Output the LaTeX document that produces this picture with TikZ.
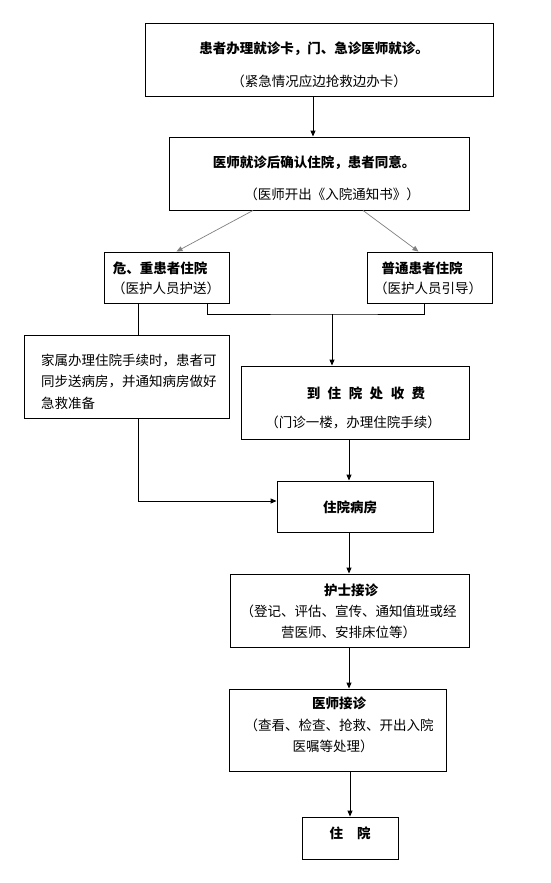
\documentclass[tikz,border=0pt]{standalone}
\usepackage{fontspec}
\setmainfont{Noto Sans CJK SC}
\usetikzlibrary{arrows.meta}
\tikzset{
  box/.style={draw=black, line width=0.9pt, inner sep=0pt},
  txt/.style={inner sep=0pt, font=\fontsize{13.5pt}{16pt}\selectfont},
  ttl/.style={inner sep=0pt, font=\fontsize{13.5pt}{16pt}\selectfont\bfseries},
  arr/.style={draw=black, line width=0.9pt, -{Triangle[width=5pt,length=6pt]}},
  ln/.style={draw=black, line width=0.9pt},
  garr/.style={draw=gray, line width=0.7pt, -{Triangle[width=5pt,length=6pt]}}
}
\begin{document}
\begin{tikzpicture}[x=1pt,y=-1pt]
\useasboundingbox[fill=white] (0,0) rectangle (550,883);
% boxes
\node[box, minimum width=348pt, minimum height=73pt] (b1) at (319,59.5) {};
\node[box, minimum width=300pt, minimum height=73pt] (b2) at (319,173.5) {};
\node[box, minimum width=125pt, minimum height=51pt] (b3) at (166.5,277.5) {};
\node[box, minimum width=125pt, minimum height=51pt] (b4) at (429.5,277.5) {};
\node[box, minimum width=205pt, minimum height=83pt] (b5) at (126.5,376.5) {};
\node[box, minimum width=228pt, minimum height=73pt] (b6) at (355,402.5) {};
\node[box, minimum width=156pt, minimum height=51pt] (b7) at (355,506.5) {};
\node[box, minimum width=239pt, minimum height=73pt] (b8) at (349.5,610.5) {};
\node[box, minimum width=217pt, minimum height=82pt] (b9) at (337.5,730) {};
\node[box, minimum width=96pt, minimum height=42pt] (b10) at (350,838) {};
% texts
\node[ttl] (t1a) at (314,49) {患者办理就诊卡，门、急诊医师就诊。};
\node[txt] (t1b) at (319,81) {（紧急情况应边抢救边办卡）};
\node[ttl] (t2a) at (314,163) {医师就诊后确认住院，患者同意。};
\node[txt] (t2b) at (332,194) {（医师开出《入院通知书》）};
\node[ttl] (t3a) at (160,268) {危、重患者住院};
\node[txt] (t3b) at (166,288) {（医护人员护送）};
\node[ttl] (t4a) at (422,268) {普通患者住院};
\node[txt] (t4b) at (428,288) {（医护人员引导）};
\node[txt, anchor=west] (t5a) at (41,360) {家属办理住院手续时，患者可};
\node[txt, anchor=west] (t5b) at (41,382) {同步送病房，并通知病房做好};
\node[txt, anchor=west] (t5c) at (41,403) {急救准备};
\node[ttl] (t6a) at (366,393) {到\hspace{7.5pt}住\hspace{7.5pt}院\hspace{7.5pt}处\hspace{7.5pt}收\hspace{7.5pt}费};
\node[txt] (t6b) at (353,422) {（门诊一楼，办理住院手续）};
\node[ttl] (t7) at (350,507) {住院病房};
\node[ttl] (t8a) at (351,590) {护士接诊};
\node[txt] (t8b) at (348.5,611) {（登记、评估、宣传、通知值班或经};
\node[txt] (t8c) at (348.5,632) {营医师、安排床位等）};
\node[ttl] (t9a) at (339,703) {医师接诊};
\node[txt] (t9b) at (339,725) {（查看、检查、抢救、开出入院};
\node[txt] (t9c) at (333,746) {医嘱等处理）};
\node[ttl] (t10) at (350,833) {住\hspace{14pt}院};
% connectors
\draw[arr] ([xshift=-6pt]b1.south) -- ([xshift=-6pt]b2.north);
\draw[garr] ([xshift=-66pt]b2.south) -- ([xshift=10pt]b3.north);
\draw[garr] ([xshift=44pt]b2.south) -- ([xshift=-11pt]b4.north);
\coordinate (m) at (332,314);
\draw[ln] ([xshift=40.5pt]b3.south) |- (m) -| ([xshift=-5.5pt]b4.south);
\draw[arr] (m) -- ([xshift=-23pt]b6.north);
\draw[ln] ([xshift=-28.5pt]b3.south) -- ([xshift=11.5pt]b5.north);
\draw[arr] ([xshift=11.5pt]b5.south) |- ([yshift=5.5pt]b7.west);
\draw[arr] ([xshift=-6pt]b6.south) -- ([xshift=-6pt]b7.north);
\draw[arr] ([xshift=-6pt]b7.south) -- ([xshift=-0.5pt]b8.north);
\draw[arr] ([xshift=-0.5pt]b8.south) -- ([xshift=11.5pt]b9.north);
\draw[arr] ([xshift=12.5pt]b9.south) -- (b10.north);
\end{tikzpicture}
\end{document}
